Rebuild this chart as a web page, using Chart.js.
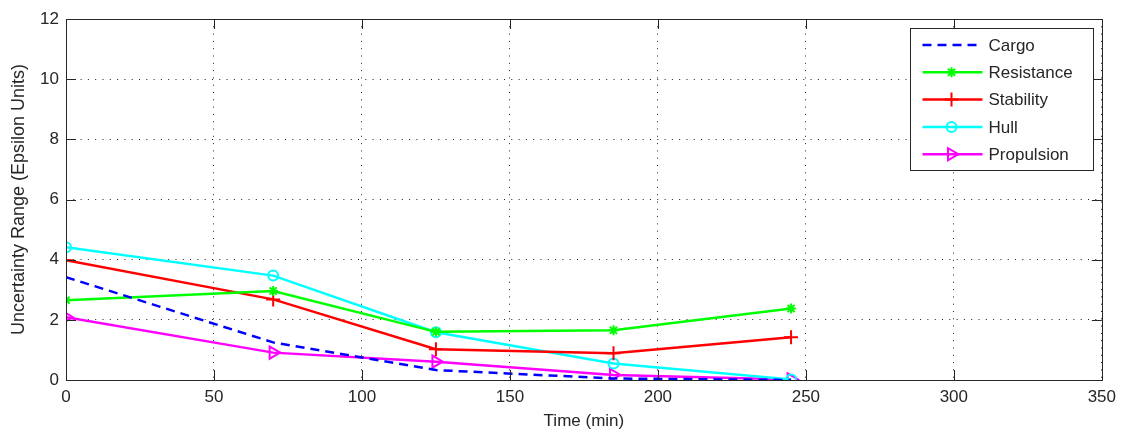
<!DOCTYPE html>
<html>
<head>
<meta charset="utf-8">
<script src="https://cdn.jsdelivr.net/npm/chart.js@4"></script>
<style>
  html, body { margin: 0; padding: 0; background: #fff; }
  #wrap { width: 1123px; height: 434px; position: relative; }
</style>
</head>
<body>
<div id="wrap"><canvas id="uncChart"></canvas></div>
<script>
// time points (min)
var times = [0, 70, 125, 185, 245];
// uncertainty range per discipline
var cargo = [3.42, 1.25, 0.33, 0.05, 0.0];
var resistance = [2.65, 2.96, 1.6, 1.65, 2.38];
var stability = [3.98, 2.68, 1.02, 0.89, 1.42];
var hull = [4.41, 3.47, 1.59, 0.55, 0.02];
var propulsion = [2.09, 0.91, 0.61, 0.17, 0.02];

var xTicks = [0, 50, 100, 150, 200, 250, 300, 350];
var yTicks = [0, 2, 4, 6, 8, 10, 12];

var txt = "#262626";
var fontFam = "'Liberation Sans', Arial, sans-serif";

function pts(vals){
    var out = [];
    for (let i = 0; i < times.length; i++){
        out.push({x: times[i], y: vals[i]});
    }
    return out;
}

// box around the axes + inward ticks on all four sides
var boxPlugin = {
    id: "box",
    afterDraw: function(chart){
        var ctx = chart.ctx;
        var a = chart.chartArea;
        var xs = chart.scales.x, ys = chart.scales.y;
        var tl = 10;
        ctx.save();
        ctx.strokeStyle = txt;
        ctx.lineWidth = 1;
        ctx.beginPath();
        for (let i = 0; i < xTicks.length; i++){
            var px = Math.round(xs.getPixelForValue(xTicks[i])) + 0.5;
            ctx.moveTo(px, a.bottom); ctx.lineTo(px, a.bottom - tl);
            ctx.moveTo(px, a.top); ctx.lineTo(px, a.top + tl);
        }
        for (let i = 0; i < yTicks.length; i++){
            var py = Math.round(ys.getPixelForValue(yTicks[i])) + 0.5;
            ctx.moveTo(a.left, py); ctx.lineTo(a.left + tl, py);
            ctx.moveTo(a.right, py); ctx.lineTo(a.right - tl, py);
        }
        ctx.stroke();
        ctx.strokeRect(Math.round(a.left) + 0.5, Math.round(a.top) + 0.5,
            Math.round(a.right - a.left), Math.round(a.bottom - a.top));
        ctx.restore();
    }
};

// matlab style legend box, top right inside the axes
var legendPlugin = {
    id: "mLegend",
    afterDraw: function(chart){
        var ctx = chart.ctx;
        var a = chart.chartArea;
        var w = 183, h = 142;
        var x0 = Math.round(a.right - 9 - w) + 0.5;
        var y0 = Math.round(a.top + 9) + 0.5;
        ctx.save();
        ctx.fillStyle = "#fff";
        ctx.fillRect(x0, y0, w, h);
        ctx.strokeStyle = txt;
        ctx.lineWidth = 1;
        ctx.strokeRect(x0, y0, w, h);
        var ds = chart.data.datasets;
        for (let i = 0; i < ds.length; i++){
            var cy = y0 + 16.5 + i * 27.3;
            ctx.save();
            ctx.strokeStyle = ds[i].borderColor;
            ctx.lineWidth = ds[i].borderWidth;
            ctx.setLineDash(ds[i].borderDash || []);
            ctx.beginPath();
            ctx.moveTo(x0 + 12, cy);
            ctx.lineTo(x0 + 72, cy);
            ctx.stroke();
            ctx.restore();
            if (ds[i].pointRadius > 0){
                ctx.save();
                ctx.strokeStyle = ds[i].borderColor;
                ctx.fillStyle = "rgba(0,0,0,0)";
                ctx.lineWidth = ds[i].pointBorderWidth;
                Chart.helpers.drawPoint(ctx, {
                    pointStyle: ds[i].pointStyle,
                    rotation: ds[i].pointRotation || 0,
                    radius: ds[i].pointRadius,
                    borderWidth: ds[i].pointBorderWidth
                }, x0 + 41, cy);
                ctx.restore();
            }
            ctx.fillStyle = txt;
            ctx.font = "17px " + fontFam;
            ctx.textBaseline = "middle";
            ctx.textAlign = "left";
            ctx.fillText(ds[i].label, x0 + 78, cy + 1);
        }
        ctx.restore();
    }
};

function series(label, vals, color, style, radius, extra){
    var d = {
        label: label,
        data: pts(vals),
        borderColor: color,
        backgroundColor: color,
        borderWidth: 2.5,
        pointStyle: style,
        pointRadius: radius,
        pointHoverRadius: radius,
        pointBorderColor: color,
        pointBackgroundColor: "rgba(0,0,0,0)",
        pointBorderWidth: 2,
        tension: 0,
        fill: false
    };
    for (var k in extra) d[k] = extra[k];
    return d;
}

new Chart("uncChart", {
    type: "line",
    data: {
        datasets: [
            series("Cargo", cargo, "#0000ff", false, 0, {borderDash: [9, 6]}),
            series("Resistance", resistance, "#00ff00", "star", 5, {}),
            series("Stability", stability, "#ff0000", "cross", 7, {}),
            series("Hull", hull, "#00ffff", "circle", 5, {}),
            series("Propulsion", propulsion, "#ff00ff", "triangle", 7, {pointRotation: 90})
        ]
    },
    options: {
        responsive: true,
        maintainAspectRatio: false,
        animation: false,
        layout: {padding: {left: 0, right: 21, top: 19, bottom: 0}},
        plugins: {
            legend: {display: false},
            tooltip: {enabled: false}
        },
        scales: {
            x: {
                type: "linear",
                min: 0, max: 350,
                afterBuildTicks: function(s){ s.ticks = xTicks.map(v => ({value: v})); },
                afterFit: function(s){ s.height = 54; },
                grid: {color: "#222", lineWidth: 1, drawTicks: false},
                border: {display: false, dash: [1, 6.3]},
                ticks: {color: txt, padding: 7, font: {family: fontFam, size: 17}, maxRotation: 0},
                title: {display: true, text: "Time (min)", color: txt, padding: {top: 0, bottom: 2},
                        font: {family: fontFam, size: 17}}
            },
            y: {
                min: 0, max: 12,
                afterBuildTicks: function(s){ s.ticks = yTicks.map(v => ({value: v})); },
                afterFit: function(s){ s.width = 66; },
                grid: {color: "#222", lineWidth: 1, drawTicks: false},
                border: {display: false, dash: [1, 6.3]},
                ticks: {color: txt, padding: 7, font: {family: fontFam, size: 17}},
                title: {display: true, text: "Uncertainty Range (Epsilon Units)", color: txt,
                        padding: {top: 8, bottom: 0}, font: {family: fontFam, size: 18}}
            }
        }
    },
    plugins: [boxPlugin, legendPlugin]
});
</script>
</body>
</html>
